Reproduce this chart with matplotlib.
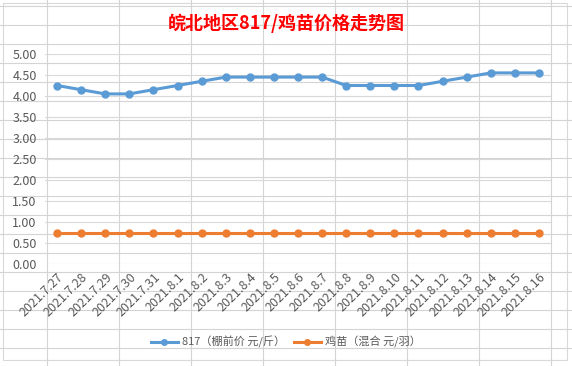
import matplotlib.pyplot as plt
from matplotlib.lines import Line2D
from matplotlib.patches import Rectangle

plt.rcParams['font.family'] = ['Noto Sans CJK SC', 'DejaVu Sans']

dates = ['2021.7.27', '2021.7.28', '2021.7.29', '2021.7.30', '2021.7.31',
         '2021.8.1', '2021.8.2', '2021.8.3', '2021.8.4', '2021.8.5', '2021.8.6',
         '2021.8.7', '2021.8.8', '2021.8.9', '2021.8.10', '2021.8.11', '2021.8.12',
         '2021.8.13', '2021.8.14', '2021.8.15', '2021.8.16']
price_817 = [4.25, 4.15, 4.05, 4.05, 4.15, 4.25, 4.35, 4.45, 4.45, 4.45, 4.45,
             4.45, 4.25, 4.25, 4.25, 4.25, 4.35, 4.45, 4.55, 4.55, 4.55]
price_chick = [0.75] * 21
y_ticks = [0, 0.5, 1.0, 1.5, 2.0, 2.5, 3.0, 3.5, 4.0, 4.5, 5.0]

W, H = 572, 366
fig = plt.figure(figsize=(W / 100, H / 100), dpi=100)
fig.patch.set_facecolor('white')

# spreadsheet cell grid behind the chart
for gx in [47, 119, 191, 263, 335, 407, 479, 551]:
    fig.add_artist(Line2D([gx / W, gx / W], [0, 1], color='#d4d4d4', lw=0.8))
gy = 6
while gy < H:
    fig.add_artist(Line2D([0, 1], [1 - gy / H, 1 - gy / H], color='#d4d4d4', lw=0.8))
    gy += 19

# chart area
fig.add_artist(Rectangle((3 / W, 1 - 360 / H), 564 / W, 357 / H, facecolor='white',
                         edgecolor='#d9d9d9', lw=0.8, zorder=1))

left, right, top, bottom = 45, 551, 54, 264
ax = fig.add_axes([left / W, 1 - bottom / H, (right - left) / W, (bottom - top) / H])
ax.set_zorder(2)
ax.patch.set_alpha(0)

x = list(range(len(dates)))
ax.plot(x, price_817, color='#5B9BD5', lw=2.2, marker='o', markersize=5,
        label='817（棚前价 元/斤）', zorder=3)
ax.plot(x, price_chick, color='#ED7D31', lw=2.2, marker='o', markersize=5,
        label='鸡苗（混合 元/羽）', zorder=3)

ax.set_xlim(-0.5, len(dates) - 0.5)
ax.set_ylim(0, 5)
ax.set_yticks(y_ticks)
ax.set_yticklabels([f'{v:.2f}' for v in y_ticks], color='#595959', fontsize=9)
ax.set_xticks(x)
ax.set_xticklabels(dates, rotation=45, ha='right', va='top', rotation_mode='anchor',
                   color='#595959', fontsize=9)
ax.tick_params(length=0, pad=5)
ax.tick_params(axis='y', pad=6)
ax.grid(axis='y', color='#d9d9d9', lw=0.8)
ax.set_axisbelow(True)
for s in ax.spines.values():
    s.set_visible(False)

fig.text(0.5, 1 - 23 / H, '皖北地区817/鸡苗价格走势图', ha='center', va='center',
         color='#FF0000', fontsize=13, fontweight='bold', zorder=3)

fig.legend(loc='center', bbox_to_anchor=(0.5, 1 - 342 / H), ncol=2, frameon=False,
           fontsize=8, labelcolor='#595959', handlelength=2.4, handletextpad=0.4,
           columnspacing=0.8, markerscale=0.8)

fig.savefig('out.png', dpi=100)
